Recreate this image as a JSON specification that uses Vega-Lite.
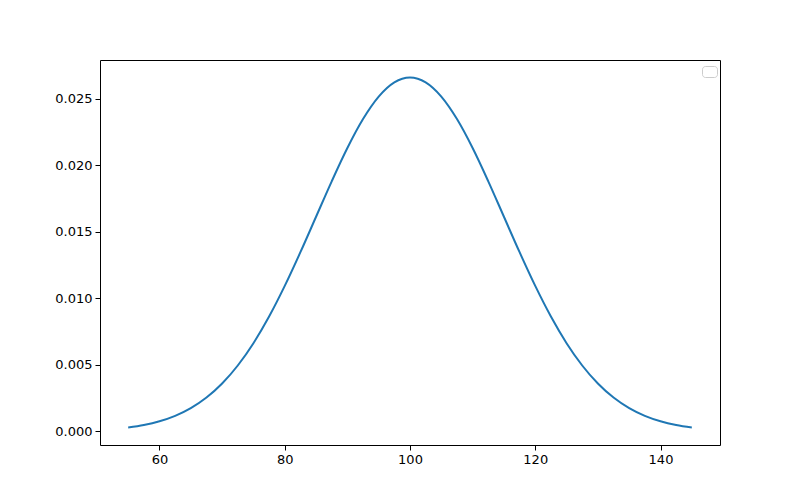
{
  "$schema": "https://vega.github.io/schema/vega-lite/v6.json",
  "width": 620,
  "height": 385,
  "autosize": {"type": "none"},
  "padding": {"left": 100, "top": 60, "right": 80, "bottom": 55},
  "background": "white",
  "config": {
    "view": {"stroke": "black", "strokeWidth": 1},
    "axis": {
      "grid": false,
      "domain": false,
      "tickColor": "black",
      "tickSize": 5,
      "tickWidth": 1,
      "labelColor": "black",
      "labelFont": "DejaVu Sans",
      "labelFontSize": 13,
      "labelPadding": 3,
      "title": null
    }
  },
  "data": {
    "values": [
      {"x": 55, "y": 0.000295},
      {"x": 57.5, "y": 0.000480},
      {"x": 60, "y": 0.000760},
      {"x": 62.5, "y": 0.001169},
      {"x": 65, "y": 0.001748},
      {"x": 67.5, "y": 0.002543},
      {"x": 70, "y": 0.003599},
      {"x": 72.5, "y": 0.004954},
      {"x": 75, "y": 0.006632},
      {"x": 77.5, "y": 0.008634},
      {"x": 80, "y": 0.010934},
      {"x": 82.5, "y": 0.013467},
      {"x": 85, "y": 0.016131},
      {"x": 87.5, "y": 0.018794},
      {"x": 90, "y": 0.021296},
      {"x": 92.5, "y": 0.023471},
      {"x": 95, "y": 0.025159},
      {"x": 97.5, "y": 0.026229},
      {"x": 100, "y": 0.026596},
      {"x": 102.5, "y": 0.026229},
      {"x": 105, "y": 0.025159},
      {"x": 107.5, "y": 0.023471},
      {"x": 110, "y": 0.021296},
      {"x": 112.5, "y": 0.018794},
      {"x": 115, "y": 0.016131},
      {"x": 117.5, "y": 0.013467},
      {"x": 120, "y": 0.010934},
      {"x": 122.5, "y": 0.008634},
      {"x": 125, "y": 0.006632},
      {"x": 127.5, "y": 0.004954},
      {"x": 130, "y": 0.003599},
      {"x": 132.5, "y": 0.002543},
      {"x": 135, "y": 0.001748},
      {"x": 137.5, "y": 0.001169},
      {"x": 140, "y": 0.000760},
      {"x": 142.5, "y": 0.000480},
      {"x": 145, "y": 0.000295}
    ]
  },
  "mark": {"type": "line", "interpolate": "monotone", "strokeWidth": 2, "color": "#1f77b4", "clip": true},
  "encoding": {
    "x": {
      "field": "x",
      "type": "quantitative",
      "scale": {"domain": [50.5, 149.5], "nice": false, "zero": false},
      "axis": {"values": [60, 80, 100, 120, 140], "format": "d"}
    },
    "y": {
      "field": "y",
      "type": "quantitative",
      "scale": {"domain": [-0.00102, 0.02791], "nice": false, "zero": false},
      "axis": {"values": [0, 0.005, 0.01, 0.015, 0.02, 0.025], "format": ".3f"}
    },
    "color": {
      "datum": " ",
      "scale": {"range": ["#1f77b4"]},
      "legend": {
        "title": null,
        "orient": "none",
        "legendX": 602,
        "legendY": 6,
        "strokeColor": "#cccccc",
        "fillColor": "white",
        "cornerRadius": 3,
        "padding": 5,
        "symbolOpacity": 0,
        "symbolSize": 1,
        "symbolStrokeWidth": 0,
        "labelFontSize": 1,
        "labelLimit": 1,
        "rowPadding": 0,
        "symbolOffset": 0
      }
    }
  }
}
